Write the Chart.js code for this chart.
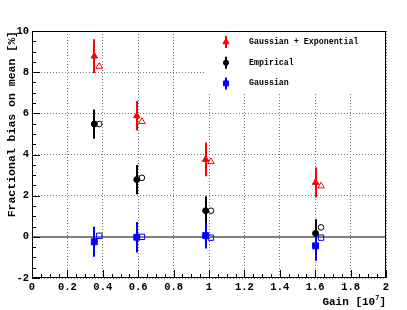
<!DOCTYPE html>
<html lang="en">
<head>
  <meta charset="UTF-8">
  <title>Fractional bias on mean vs gain</title>
  <script src="https://cdn.jsdelivr.net/npm/chart.js"></script>
  <style>
    body { margin: 0; background: #fff; }
  </style>
</head>
<body>
  <canvas id="myChart" width="407" height="310"></canvas>

  <script>
    // gain [10^7]; open markers sit slightly to the right of the filled ones
    const gainFilled = [0.352, 0.592, 0.981, 1.602];
    const gainOpen = [0.380, 0.621, 1.011, 1.633];

    // Gaussian + Exponential
    const gexpBias = [8.78, 5.88, 3.76, 2.64];
    const gexpErr = [0.82, 0.72, 0.82, 0.73];
    const gexpOpen = [8.28, 5.60, 3.65, 2.47];

    // Empirical
    const empBias = [5.48, 2.78, 1.27, 0.17];
    const empErr = [0.71, 0.71, 0.70, 0.69];
    const empOpen = [5.48, 2.87, 1.27, 0.46];

    // Gaussian
    const gausBias = [-0.24, -0.02, 0.06, -0.44];
    const gausErr = [0.73, 0.74, 0.63, 0.72];
    const gausOpen = [0.05, 0.00, -0.04, -0.04];

    const seriesNames = ['Gaussian + Exponential', 'Empirical', 'Gaussian'];
    const seriesColors = ['#ff0000', '#000000', '#0000ff'];
    const seriesStyles = ['triangle', 'circle', 'rect'];

    const xRange = [0, 2];
    const yRange = [-2, 10];

    const font = '"Liberation Mono", "DejaVu Sans Mono", monospace';

    function pts(xs, ys) {
      return xs.map((x, i) => ({ x: x, y: ys[i] }));
    }

    // error bars, zero line, legend box, inner ticks, frame, titles
    const rootStyle = {
      id: 'rootStyle',
      beforeDatasetsDraw(chart) {
        const { ctx, chartArea: a, scales: { x, y } } = chart;
        ctx.save();
        // legend background hides the grid behind it
        ctx.fillStyle = '#fff';
        ctx.fillRect(a.right - 181, a.top, 181, 61);

        // zero line
        const y0 = Math.round(y.getPixelForValue(0));
        ctx.strokeStyle = '#808080';
        ctx.lineWidth = 2;
        ctx.beginPath();
        ctx.moveTo(a.left, y0);
        ctx.lineTo(a.right, y0);
        ctx.stroke();

        // error bars
        chart.data.datasets.forEach(ds => {
          if (!ds.errors) return;
          ctx.strokeStyle = ds.borderColor;
          ctx.lineWidth = 2;
          ds.data.forEach((p, i) => {
            const px = Math.round(x.getPixelForValue(p.x));
            ctx.beginPath();
            ctx.moveTo(px, y.getPixelForValue(p.y - ds.errors[i]));
            ctx.lineTo(px, y.getPixelForValue(p.y + ds.errors[i]));
            ctx.stroke();
          });
        });
        ctx.restore();
      },
      afterDatasetsDraw(chart) {
        const { ctx, chartArea: a, scales: { x, y } } = chart;
        ctx.save();
        ctx.strokeStyle = '#000';
        ctx.lineWidth = 1;

        // ticks pointing inward
        ctx.beginPath();
        for (let i = 0; i <= 40; i++) {
          const px = Math.round(x.getPixelForValue(xRange[0] + i * 0.05)) + 0.5;
          const len = i % 4 === 0 ? 8 : 4;
          ctx.moveTo(px, a.bottom);
          ctx.lineTo(px, a.bottom - len);
        }
        for (let i = 0; i <= 24; i++) {
          const py = Math.round(y.getPixelForValue(yRange[0] + i * 0.5)) + 0.5;
          const len = i % 4 === 0 ? 8 : 4;
          ctx.moveTo(a.left, py);
          ctx.lineTo(a.left + len, py);
        }
        ctx.stroke();

        // frame
        ctx.strokeRect(Math.round(a.left) + 0.5, Math.round(a.top) + 0.5,
          Math.round(a.right - a.left) - 1, Math.round(a.bottom - a.top) - 1);

        // legend
        ctx.font = 'bold 8.3px ' + font;
        ctx.textBaseline = 'middle';
        ctx.textAlign = 'left';
        seriesNames.forEach((name, k) => {
          const ly = a.top + 11 + k * 20.7;
          const lx = a.left + 194;
          ctx.strokeStyle = seriesColors[k];
          ctx.fillStyle = seriesColors[k];
          ctx.lineWidth = 2;
          ctx.beginPath();
          ctx.moveTo(lx, ly - 6);
          ctx.lineTo(lx, ly + 6);
          ctx.stroke();
          ctx.lineWidth = 1;
          Chart.helpers.drawPoint(ctx, {
            pointStyle: seriesStyles[k],
            radius: seriesStyles[k] === 'circle' ? 2.6 : 3.5,
            rotation: 0,
            borderWidth: 1
          }, lx, ly);
          ctx.fillStyle = '#000';
          ctx.fillText(name, lx + 23, ly);
        });

        // axis titles
        ctx.fillStyle = '#000';
        ctx.font = 'bold 11px ' + font;
        ctx.textBaseline = 'alphabetic';
        const tail = ']';
        const sup = '7';
        const head = 'Gain [10';
        const wTail = ctx.measureText(tail).width;
        ctx.font = 'bold 7px ' + font;
        const wSup = ctx.measureText(sup).width;
        ctx.font = 'bold 11px ' + font;
        let tx = a.right;
        ctx.textAlign = 'right';
        ctx.fillText(tail, tx, 305);
        tx -= wTail;
        ctx.font = 'bold 7px ' + font;
        ctx.fillText(sup, tx, 300);
        tx -= wSup;
        ctx.font = 'bold 11px ' + font;
        ctx.fillText(head, tx, 305);

        ctx.translate(12, a.top);
        ctx.rotate(-Math.PI / 2);
        ctx.font = 'bold 11.5px ' + font;
        ctx.textAlign = 'right';
        ctx.textBaseline = 'middle';
        ctx.fillText('Fractional bias on mean [%]', 0, 0);
        ctx.restore();
      }
    };

    const datasets = [];
    [[gexpBias, gexpErr, gexpOpen], [empBias, empErr, empOpen], [gausBias, gausErr, gausOpen]]
      .forEach(([bias, err, open], k) => {
        const style = seriesStyles[k];
        datasets.push({
          label: seriesNames[k],
          data: pts(gainFilled, bias),
          errors: err,
          pointStyle: style,
          pointRadius: style === 'rect' ? 4.2 : (style === 'circle' ? 3 : 3.8),
          backgroundColor: seriesColors[k],
          borderColor: seriesColors[k],
          borderWidth: 1
        });
        datasets.push({
          label: seriesNames[k] + ' (open)',
          data: pts(gainOpen, open),
          pointStyle: style,
          pointRadius: style === 'rect' ? 3.8 : (style === 'circle' ? 2.8 : 3.8),
          backgroundColor: 'rgba(255,255,255,0)',
          borderColor: seriesColors[k],
          borderWidth: 1
        });
      });

    const ctx = document.getElementById('myChart').getContext('2d');
    new Chart(ctx, {
      type: 'scatter',
      data: { datasets: datasets },
      options: {
        responsive: false,
        animation: false,
        layout: { padding: { top: 31, right: 21, left: 0, bottom: 0 } },
        plugins: { legend: { display: false }, tooltip: { enabled: false } },
        scales: {
          x: {
            type: 'linear',
            min: xRange[0],
            max: xRange[1],
            afterFit(scale) { scale.height = 32; },
            ticks: {
              stepSize: 0.2,
              padding: 3,
              color: '#000',
              font: { family: font, size: 10.5, weight: 'bold' },
              maxRotation: 0,
              callback: v => String(Math.round(v * 10) / 10)
            },
            grid: { color: '#777', lineWidth: 1, drawTicks: false },
            border: { display: false, dash: [1, 2] }
          },
          y: {
            type: 'linear',
            min: yRange[0],
            max: yRange[1],
            afterFit(scale) { scale.width = 32; },
            ticks: {
              stepSize: 2,
              padding: 3,
              color: '#000',
              font: { family: font, size: 10.5, weight: 'bold' },
              callback: v => String(Math.round(v))
            },
            grid: { color: '#777', lineWidth: 1, drawTicks: false },
            border: { display: false, dash: [1, 2] }
          }
        }
      },
      plugins: [rootStyle]
    });
  </script>
</body>
</html>
